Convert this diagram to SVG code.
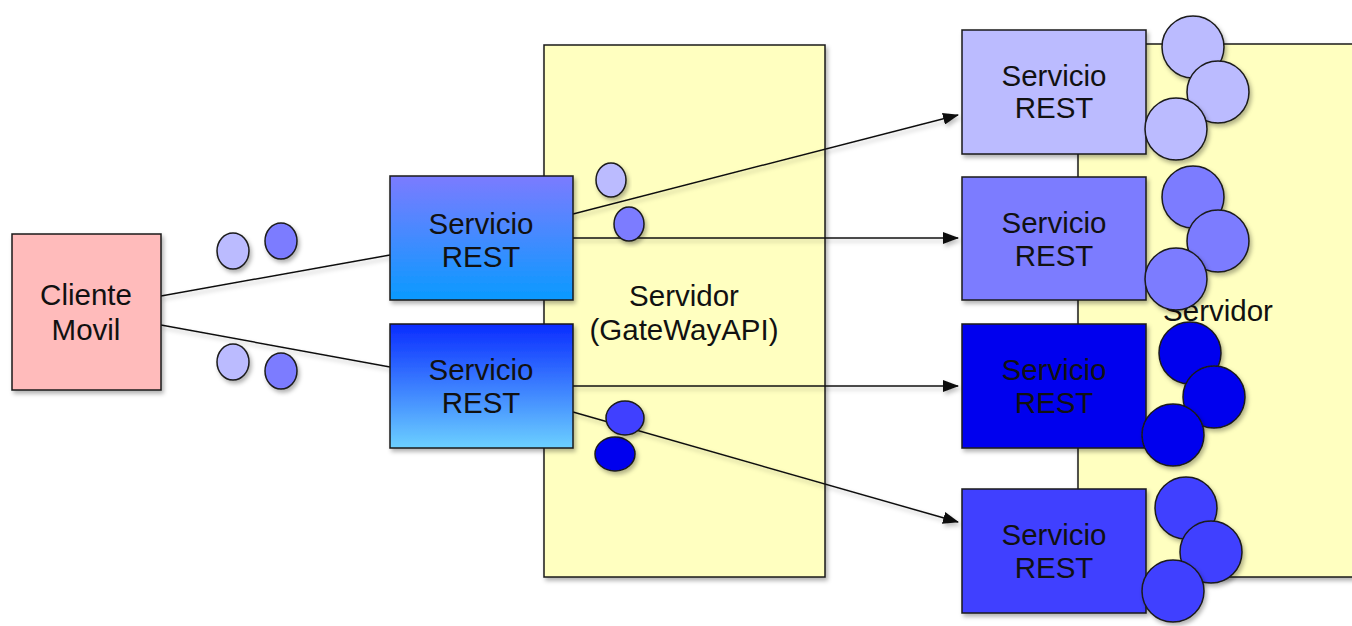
<svg xmlns="http://www.w3.org/2000/svg" width="1352" height="626" viewBox="0 0 1352 626">
<style>
  .lbl{font-family:"Liberation Sans",Arial,sans-serif;font-size:29.5px;fill:#111;text-anchor:middle}
  .box{stroke:#1a1a1a;stroke-width:1.5;filter:url(#sh)}
  .srv{fill:#ffffc0;stroke:#1a1a1a;stroke-width:1.5;filter:url(#sh)}
  .dot{stroke:#1a1a1a;stroke-width:1.5;filter:url(#sh)}
  .conn{stroke:#111;stroke-width:1.5;fill:none}
  .c1{fill:#bbbbff}.c2{fill:#7b7bff}.c3{fill:#0000ee}.c4{fill:#4040ff}
</style>
<defs>
  <filter id="sh" x="-20%" y="-20%" width="140%" height="140%">
    <feDropShadow dx="2" dy="3" stdDeviation="2" flood-color="#000" flood-opacity="0.3"/>
  </filter>
  <filter id="shl" filterUnits="userSpaceOnUse" x="0" y="0" width="1352" height="626">
    <feDropShadow dx="2" dy="3" stdDeviation="2" flood-color="#000" flood-opacity="0.25"/>
  </filter>
  <linearGradient id="g1" x1="0" y1="0" x2="0" y2="1">
    <stop offset="0" stop-color="#7b7bff"/>
    <stop offset="1" stop-color="#0a9aff"/>
  </linearGradient>
  <linearGradient id="g2" x1="0" y1="0" x2="0" y2="1">
    <stop offset="0" stop-color="#0a2cff"/>
    <stop offset="1" stop-color="#6cd0ff"/>
  </linearGradient>
  <marker id="arr" markerWidth="16" markerHeight="12" refX="15" refY="6" orient="auto" markerUnits="userSpaceOnUse">
    <path d="M0,0 L16,6 L0,12 Z" fill="#111"/>
  </marker>
</defs>

<g id="servidor-gateway">
  <rect class="srv" x="544" y="45" width="281" height="532"/>
  <text class="lbl" x="684" y="306">Servidor</text>
  <text class="lbl" x="684" y="340">(GateWayAPI)</text>
</g>

<g id="servidor-right">
  <rect class="srv" x="1078" y="44" width="290" height="533"/>
  <text class="lbl" x="1218" y="321">Servidor</text>
</g>

<g id="connectors" filter="url(#shl)">
  <line class="conn" x1="161" y1="296" x2="390" y2="255"/>
  <line class="conn" x1="161" y1="325" x2="390" y2="367"/>
  <line class="conn" x1="573" y1="214" x2="958" y2="115" marker-end="url(#arr)"/>
  <line class="conn" x1="573" y1="238" x2="958" y2="238" marker-end="url(#arr)"/>
  <line class="conn" x1="573" y1="386" x2="958" y2="386" marker-end="url(#arr)"/>
  <line class="conn" x1="573" y1="412" x2="958" y2="522" marker-end="url(#arr)"/>
</g>

<g id="cliente">
  <rect class="box" x="12" y="234" width="149" height="156" fill="#ffbbbb"/>
  <text class="lbl" x="86" y="305">Cliente</text>
  <text class="lbl" x="86" y="340">Movil</text>
</g>

<g id="msgs-left">
  <ellipse class="dot c1" cx="233" cy="251" rx="16" ry="18"/>
  <ellipse class="dot c2" cx="281" cy="241" rx="16" ry="18"/>
  <ellipse class="dot c1" cx="233" cy="362" rx="16" ry="18"/>
  <ellipse class="dot c2" cx="281" cy="371" rx="16" ry="18"/>
</g>

<g id="rest-left-1">
  <rect class="box" x="390" y="176" width="183" height="124" fill="url(#g1)"/>
  <text class="lbl" x="481" y="234">Servicio</text>
  <text class="lbl" x="481" y="267">REST</text>
</g>
<g id="rest-left-2">
  <rect class="box" x="390" y="324" width="183" height="124" fill="url(#g2)"/>
  <text class="lbl" x="481" y="380">Servicio</text>
  <text class="lbl" x="481" y="413">REST</text>
</g>

<g id="msgs-gateway">
  <ellipse class="dot c1" cx="611" cy="180" rx="15" ry="17"/>
  <ellipse class="dot c2" cx="629" cy="224" rx="15" ry="17"/>
  <ellipse class="dot c3" cx="615" cy="454" rx="20" ry="17"/>
  <ellipse class="dot c4" cx="625" cy="418" rx="19" ry="17"/>
</g>

<g id="rest-right-1">
  <rect class="box c1" x="962" y="30" width="184" height="124"/>
  <text class="lbl" x="1054" y="86">Servicio</text>
  <text class="lbl" x="1054" y="118">REST</text>
  <circle class="dot c1" cx="1193" cy="47" r="31"/>
  <circle class="dot c1" cx="1218" cy="92" r="31"/>
  <circle class="dot c1" cx="1176" cy="129" r="31"/>
</g>
<g id="rest-right-2">
  <rect class="box c2" x="962" y="177" width="184" height="123"/>
  <text class="lbl" x="1054" y="233">Servicio</text>
  <text class="lbl" x="1054" y="266">REST</text>
  <circle class="dot c2" cx="1193" cy="197" r="31"/>
  <circle class="dot c2" cx="1218" cy="241" r="31"/>
  <circle class="dot c2" cx="1176" cy="279" r="31"/>
</g>
<g id="rest-right-3">
  <rect class="box c3" x="962" y="324" width="184" height="124"/>
  <text class="lbl" x="1054" y="380">Servicio</text>
  <text class="lbl" x="1054" y="413">REST</text>
  <circle class="dot c3" cx="1190" cy="353" r="31"/>
  <circle class="dot c3" cx="1214" cy="397" r="31"/>
  <circle class="dot c3" cx="1173" cy="435" r="31"/>
</g>
<g id="rest-right-4">
  <rect class="box c4" x="962" y="489" width="184" height="124"/>
  <text class="lbl" x="1054" y="545">Servicio</text>
  <text class="lbl" x="1054" y="578">REST</text>
  <circle class="dot c4" cx="1186" cy="508" r="31"/>
  <circle class="dot c4" cx="1211" cy="552" r="31"/>
  <circle class="dot c4" cx="1173" cy="591" r="31"/>
</g>
</svg>
